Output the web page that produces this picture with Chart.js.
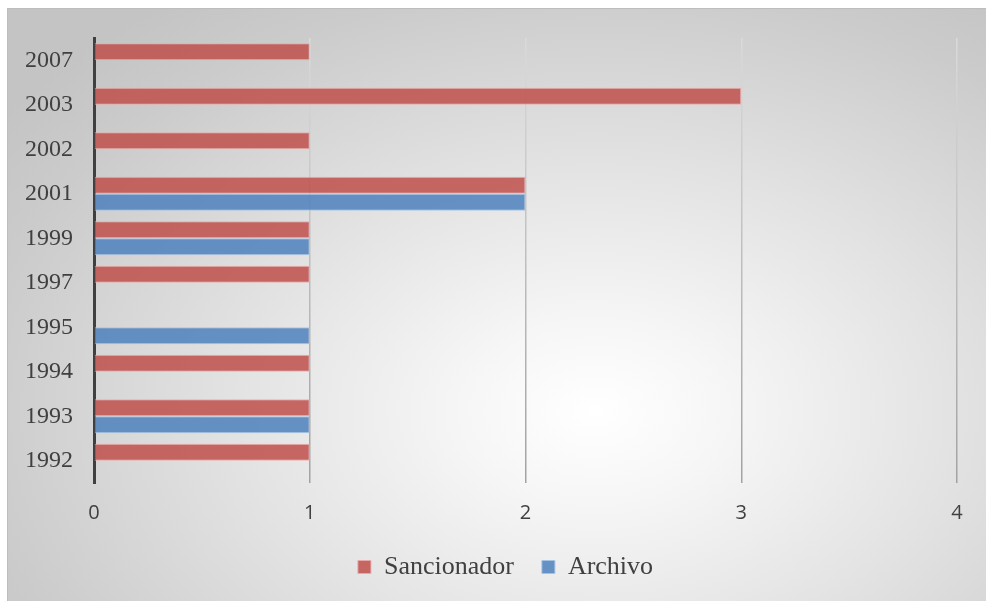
<!DOCTYPE html>
<html lang="es">
<head>
    <meta charset="UTF-8">
    <title>Sancionador / Archivo</title>
    <script src="https://cdn.jsdelivr.net/npm/chart.js"></script>
    <style>
        html, body {
            margin: 0;
            padding: 0;
            background: #ffffff;
            width: 986px;
            height: 601px;
            overflow: hidden;
        }
        .chart-box {
            position: absolute;
            left: 7px;
            top: 8px;
            width: 979px;
            height: 593px;
            border-top: 1px solid #bdbdbd;
            border-left: 1px solid #bdbdbd;
            box-sizing: border-box;
            background: radial-gradient(ellipse 75% 85% at 60% 68%, #ffffff 0%, #f6f6f6 18%, #e2e2e2 50%, #cbcbcb 85%, #c4c4c4 100%);
        }
        canvas {
            display: block;
        }
    </style>
</head>
<body>
    <div class="chart-box">
        <canvas id="grafico" width="978" height="592"></canvas>
    </div>

    <script>
    // años de arriba hacia abajo
    const years = ["2007", "2003", "2002", "2001", "1999", "1997", "1995", "1994", "1993", "1992"];
    const sancionador = [1, 3, 1, 2, 1, 1, null, 1, 1, 1];
    const archivo = [null, null, null, 2, 1, null, 1, null, 1, null];
    const xTicks = [0, 1, 2, 3, 4];

    // rejilla vertical: clara arriba, más oscura abajo
    function gridColor(ctx) {
        const area = ctx.chart.chartArea;
        if (!area) return '#c0c0c0';
        const g = ctx.chart.ctx.createLinearGradient(0, area.top, 0, area.bottom);
        g.addColorStop(0, '#dadada');
        g.addColorStop(1, '#a2a2a2');
        return g;
    }

    // la leyenda va un poco a la derecha del centro del lienzo
    const legendShift = {
        id: 'legendShift',
        afterLayout(chart) {
            const lg = chart.legend;
            if (!lg) return;
            const area = chart.chartArea;
            const dx = (area.left + area.right) / 2 - (lg.left + lg.right) / 2 - 20;
            lg.left += dx;
            lg.right += dx;
        }
    };

    const serif = "'Liberation Serif', 'Times New Roman', serif";

    const ctx = document.getElementById('grafico').getContext('2d');
    new Chart(ctx, {
        type: 'bar',
        data: {
            labels: years,
            datasets: [
                {
                    label: 'Sancionador',
                    data: sancionador,
                    backgroundColor: 'rgba(192, 80, 77, 0.86)',
                    borderColor: 'rgba(232, 170, 168, 0.9)',
                    borderWidth: 1
                },
                {
                    label: 'Archivo',
                    data: archivo,
                    backgroundColor: 'rgba(79, 129, 189, 0.86)',
                    borderColor: 'rgba(165, 195, 228, 0.9)',
                    borderWidth: 1
                }
            ]
        },
        plugins: [legendShift],
        options: {
            indexAxis: 'y',
            responsive: false,
            animation: false,
            layout: {
                padding: { left: 0, right: 29, top: 29, bottom: 11 }
            },
            datasets: {
                bar: {
                    categoryPercentage: 0.76,
                    barPercentage: 1.0
                }
            },
            plugins: {
                title: { display: false },
                tooltip: { enabled: false },
                legend: {
                    position: 'bottom',
                    labels: {
                        boxWidth: 13,
                        boxHeight: 13,
                        padding: 28,
                        color: '#404040',
                        font: { family: serif, size: 26 },
                        generateLabels(chart) {
                            const items = Chart.defaults.plugins.legend.labels.generateLabels(chart);
                            items.forEach(it => { it.lineWidth = 1; });
                            return items;
                        }
                    }
                }
            },
            scales: {
                x: {
                    min: 0,
                    max: 4,
                    afterBuildTicks(scale) {
                        scale.ticks = xTicks.map(v => ({ value: v }));
                    },
                    afterFit(scale) {
                        scale.height = 43;
                    },
                    border: { display: false },
                    grid: {
                        color: gridColor,
                        lineWidth: 1.5,
                        drawTicks: false
                    },
                    ticks: {
                        padding: 18,
                        color: '#404040',
                        font: { family: "'Open Sans', sans-serif", size: 20 }
                    }
                },
                y: {
                    afterFit(scale) {
                        scale.width = 86;
                        scale.paddingTop = 0;
                        scale.paddingBottom = 0;
                    },
                    border: { display: true, color: '#404040', width: 3 },
                    grid: { display: false, drawTicks: false },
                    ticks: {
                        padding: 21,
                        color: '#404040',
                        font: { family: serif, size: 24 }
                    }
                }
            }
        }
    });
    </script>
</body>
</html>
